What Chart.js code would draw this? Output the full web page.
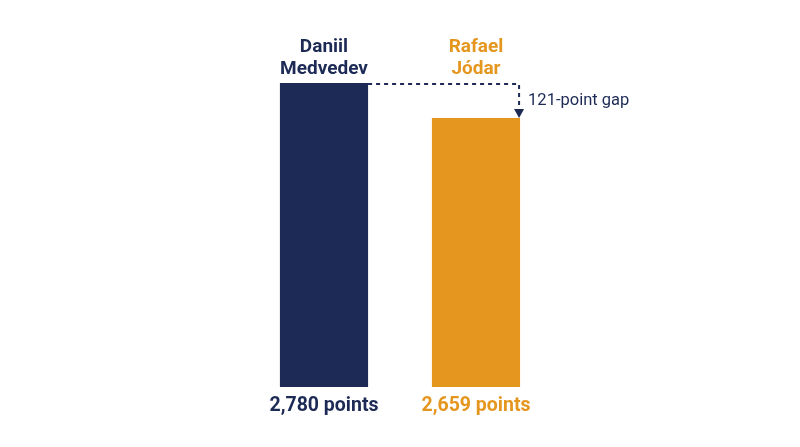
<!DOCTYPE html>
<html>
<head>
<meta charset="utf-8">
<script src="https://cdn.jsdelivr.net/npm/chart.js@4/dist/chart.umd.min.js"></script>
<style>
  html, body { margin: 0; padding: 0; background: #fff; }
  #wrap { width: 800px; height: 447px; }
</style>
</head>
<body>
<div id="wrap"><canvas id="gap-chart"></canvas></div>
<script>
var players = [['Daniil', 'Medvedev'], ['Rafael', 'Jódar']];
var points = [2780, 2659];
var colors = ['#1c2a55', '#e5961e'];

function fmt(n) {
	return n.toLocaleString('en-US');
}

var labelPlugin = {
	id: 'barLabels',
	afterDraw: function(chart) {
		var ctx = chart.ctx;
		var meta = chart.getDatasetMeta(0);
		var area = chart.chartArea;
		ctx.save();
		ctx.textAlign = 'center';
		ctx.textBaseline = 'alphabetic';
		meta.data.forEach(function(bar, i) {
			ctx.fillStyle = colors[i];
			ctx.font = 'bold 19px Roboto';
			ctx.fillText(players[i][0], bar.x, area.top - 31);
			ctx.fillText(players[i][1], bar.x, area.top - 9);
			ctx.font = 'bold 19.5px Roboto';
			ctx.fillText(fmt(points[i]) + ' points', bar.x, area.bottom + 24);
		});

		// dashed gap marker
		var a = meta.data[0], b = meta.data[1];
		var x0 = a.x + a.width / 2;
		var x1 = b.x + b.width / 2 - 1;
		ctx.strokeStyle = colors[0];
		ctx.lineWidth = 2;
		ctx.setLineDash([4, 4]);
		ctx.beginPath();
		ctx.moveTo(x0, a.y + 1);
		ctx.lineTo(x1, a.y + 1);
		ctx.lineTo(x1, b.y - 8);
		ctx.stroke();
		ctx.setLineDash([]);
		ctx.fillStyle = colors[0];
		ctx.beginPath();
		ctx.moveTo(x1 - 5, b.y - 9);
		ctx.lineTo(x1 + 5, b.y - 9);
		ctx.lineTo(x1, b.y);
		ctx.closePath();
		ctx.fill();

		ctx.textAlign = 'left';
		ctx.textBaseline = 'middle';
		ctx.font = '16.5px Roboto';
		ctx.fillText((points[0] - points[1]) + '-point gap', x1 + 9, (a.y + b.y) / 2);
		ctx.restore();
	}
};

var gapChart = new Chart(document.getElementById('gap-chart'), {
	type: 'bar',
	data: {
		labels: players,
		datasets: [{
			data: points,
			backgroundColor: colors,
			borderWidth: 0,
			categoryPercentage: 1,
			barPercentage: 0.58
		}]
	},
	options: {
		responsive: true,
		maintainAspectRatio: false,
		animation: false,
		layout: { padding: { left: 248, right: 248, top: 83, bottom: 60 } },
		plugins: { legend: { display: false }, tooltip: { enabled: false } },
		scales: {
			x: { display: false },
			y: { display: false, min: 1730, max: 2780 }
		}
	},
	plugins: [labelPlugin]
});
</script>
</body>
</html>
